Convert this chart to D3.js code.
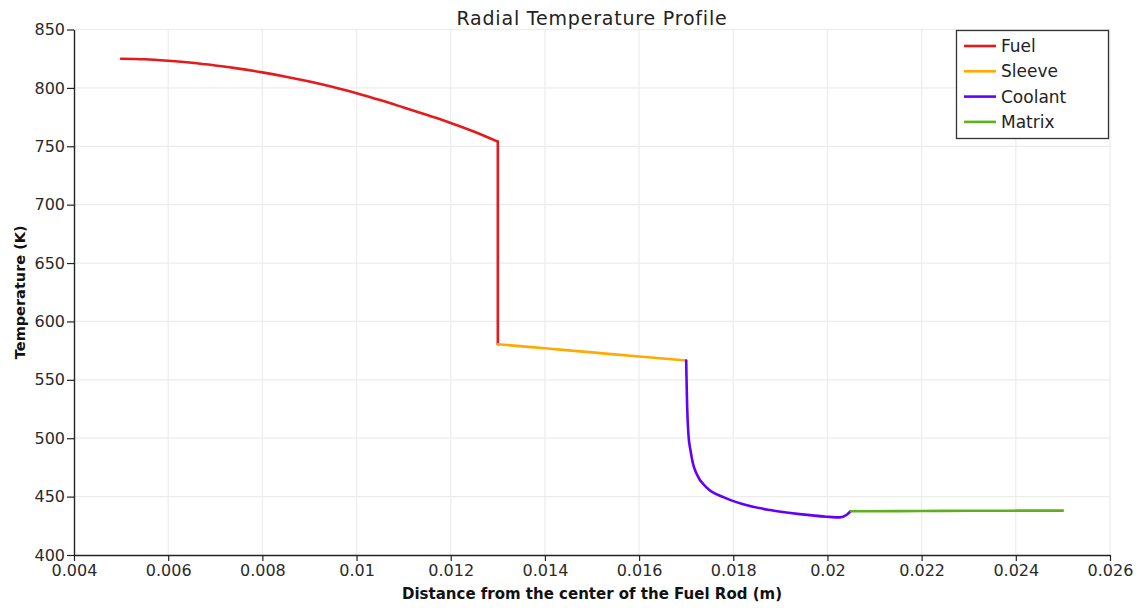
<!DOCTYPE html>
<html>
<head>
<meta charset="utf-8">
<script src="https://cdn.jsdelivr.net/npm/d3@7"></script>
<style>
  html, body { margin: 0; padding: 0; background: #fff; }
  svg { display: block; font-family: "DejaVu Sans", sans-serif; }
</style>
</head>
<body>
<svg id="chart" width="1142" height="608"></svg>
<script>
// Radial positions (m) and temperatures (K) for each region of the fuel cell
const fuelR = [0.005, 0.0055, 0.006, 0.0065, 0.007, 0.0075, 0.008, 0.0085, 0.009, 0.0095,
               0.010, 0.0105, 0.011, 0.0115, 0.012, 0.0125, 0.013, 0.013];
const fuelT = [825, 824.5, 823.2, 821.5, 819.2, 816.5, 813.3, 809.6, 805.4, 800.7,
               795.5, 789.6, 783.2, 776.7, 770, 762.5, 754, 580.5];

const sleeveR = [0.013, 0.014, 0.015, 0.016, 0.017];
const sleeveT = [580.5, 577, 573.5, 570, 566.5];

const coolantR = [0.017, 0.017005, 0.01702, 0.01705, 0.01709, 0.01714, 0.01722, 0.01743, 0.01779,
                  0.01821, 0.01878, 0.01941, 0.01998, 0.02026, 0.02041, 0.02049];
const coolantT = [566.5, 555, 528, 502, 490, 479, 469.5, 458, 449.5,
                  443.5, 438.5, 435, 432.8, 432.2, 434.5, 437.5];

const matrixR = [0.0205, 0.0215, 0.0225, 0.0235, 0.0245, 0.025];
const matrixT = [437.5, 437.6, 437.8, 437.9, 438, 438];

const seriesNames = ["Fuel", "Sleeve", "Coolant", "Matrix"];
const seriesColors = ["#e41a1c", "#ffaa00", "#6200ff", "#5fb01c"];

const xTicks = [0.004, 0.006, 0.008, 0.01, 0.012, 0.014, 0.016, 0.018, 0.02, 0.022, 0.024, 0.026];
const yTicks = [400, 450, 500, 550, 600, 650, 700, 750, 800, 850];

const chartTitle = "Radial Temperature Profile";
const xTitle = "Distance from the center of the Fuel Rod (m)";
const yTitle = "Temperature (K)";

// ---- layout ----
const plotLeft = 74, plotRight = 1110, plotTop = 29.5, plotBottom = 555;
const svg = d3.select("#chart");

const x = d3.scaleLinear().domain([0.004, 0.026]).range([plotLeft, plotRight]);
const y = d3.scaleLinear().domain([400, 850]).range([plotBottom, plotTop]);

// grid
const grid = svg.append("g").attr("stroke", "#ececec").attr("stroke-width", 1.2);
grid.selectAll("line.v").data(xTicks.slice(1)).join("line")
  .attr("x1", d => x(d)).attr("x2", d => x(d))
  .attr("y1", plotTop).attr("y2", plotBottom);
grid.selectAll("line.h").data(yTicks.slice(1)).join("line")
  .attr("x1", plotLeft).attr("x2", plotRight)
  .attr("y1", d => y(d)).attr("y2", d => y(d));

// axes
const xAxis = d3.axisBottom(x).tickValues(xTicks).tickFormat(d => String(+d.toFixed(3)))
  .tickSizeInner(6).tickSizeOuter(0).tickPadding(4);
const yAxis = d3.axisLeft(y).tickValues(yTicks).tickFormat(d3.format("d"))
  .tickSizeInner(7).tickSizeOuter(0).tickPadding(2);

const gx = svg.append("g").attr("transform", `translate(0,${plotBottom})`).call(xAxis);
const gy = svg.append("g").attr("transform", `translate(${plotLeft},0)`).call(yAxis);
[gx, gy].forEach(g => {
  g.select(".domain").attr("stroke", "#222").attr("stroke-width", 1.4);
  g.selectAll(".tick line").attr("stroke", "#222").attr("stroke-width", 1.2);
  g.selectAll(".tick text").attr("fill", "#2a2a2a")
    .style("font-family", "'DejaVu Sans', sans-serif").style("font-size", "16px");
});

// lines: smooth runs where radius increases, straight drops at interfaces
function drawSeries(rs, ts, color) {
  const pts = d3.zip(rs, ts);
  const runs = [[pts[0]]];
  for (let i = 1; i < pts.length; i++) {
    const cur = runs[runs.length - 1];
    const curVertical = cur.length > 1 && cur[0][0] === cur[1][0];
    if (pts[i][0] === pts[i - 1][0] || curVertical) runs.push([pts[i - 1], pts[i]]);
    else cur.push(pts[i]);
  }
  runs.forEach(run => {
    const vertical = run.length === 2 && run[0][0] === run[1][0];
    const line = d3.line().x(d => x(d[0])).y(d => y(d[1]))
      .curve(vertical ? d3.curveLinear : d3.curveMonotoneX);
    svg.append("path").datum(run)
      .attr("d", line)
      .attr("fill", "none")
      .attr("stroke", color)
      .attr("stroke-width", 2.6)
      .attr("stroke-linejoin", "round")
      .attr("stroke-linecap", "round");
  });
}
drawSeries(fuelR, fuelT, seriesColors[0]);
drawSeries(sleeveR, sleeveT, seriesColors[1]);
drawSeries(coolantR, coolantT, seriesColors[2]);
drawSeries(matrixR, matrixT, seriesColors[3]);

// titles
svg.append("text").attr("x", (plotLeft + plotRight) / 2).attr("y", 25)
  .attr("text-anchor", "middle").attr("fill", "#222")
  .style("font-size", "19px").style("letter-spacing", "0.8px").text(chartTitle);

svg.append("text").attr("x", (plotLeft + plotRight) / 2).attr("y", 599)
  .attr("text-anchor", "middle").attr("fill", "#111")
  .style("font-size", "15px").style("font-weight", "bold").text(xTitle);

svg.append("text")
  .attr("transform", `translate(25,${(plotTop + plotBottom) / 2}) rotate(-90)`)
  .attr("text-anchor", "middle").attr("fill", "#111")
  .style("font-size", "14.5px").style("font-weight", "bold").text(yTitle);

// legend
const legend = svg.append("g");
legend.append("rect")
  .attr("x", 956.5).attr("y", 30.5).attr("width", 152).attr("height", 108)
  .attr("fill", "#fff").attr("stroke", "#333").attr("stroke-width", 1.3);
const rows = legend.selectAll("g.row").data(seriesNames).join("g")
  .attr("transform", (d, i) => `translate(0,${46 + i * 25.3})`);
rows.append("line").attr("x1", 964).attr("x2", 996).attr("y1", 0).attr("y2", 0)
  .attr("stroke", (d, i) => seriesColors[i]).attr("stroke-width", 2.6);
rows.append("text").attr("x", 1001).attr("y", 0).attr("dy", "0.36em")
  .attr("fill", "#222").style("font-size", "17px").text(d => d);
</script>
</body>
</html>
